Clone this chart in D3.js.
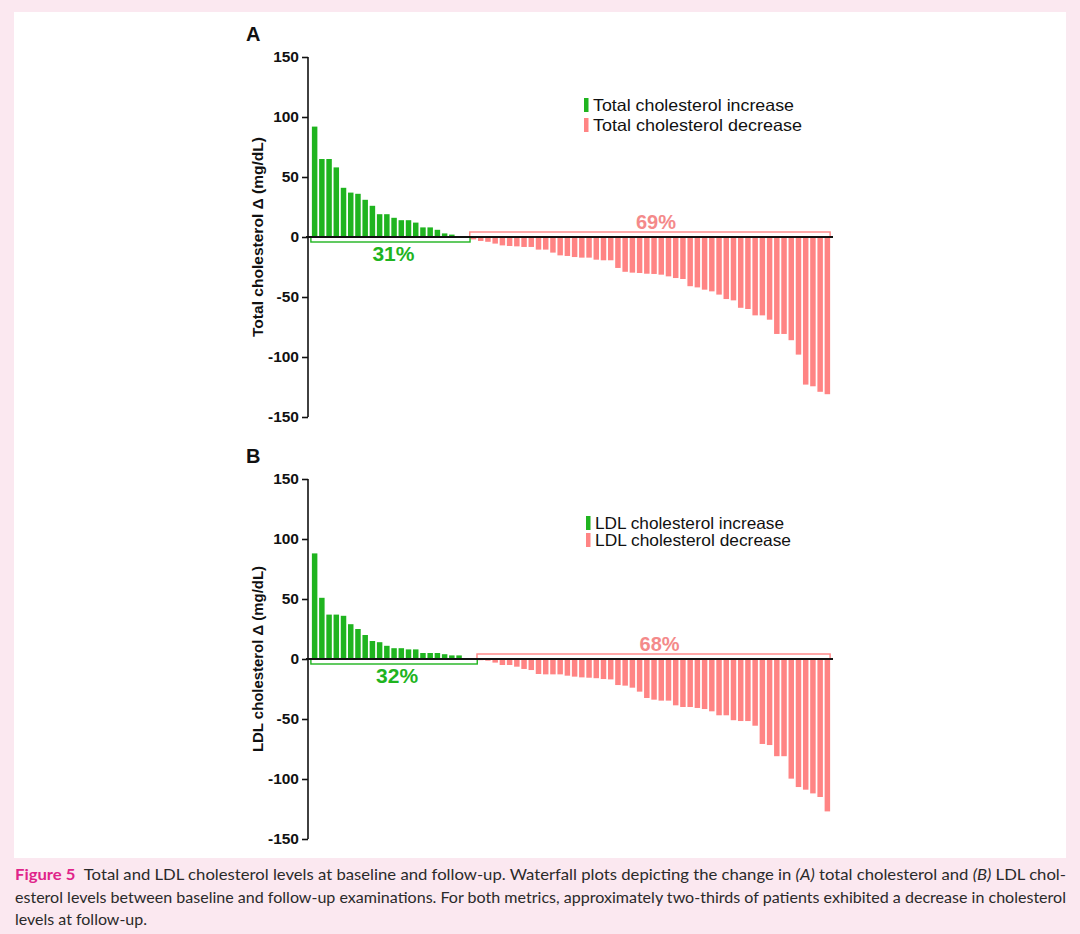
<!DOCTYPE html>
<html><head><meta charset="utf-8">
<script src="https://cdn.jsdelivr.net/npm/d3@7/dist/d3.min.js"></script>
<style>
html,body{margin:0;padding:0;background:#fbe8f0;}
svg{display:block;}
</style></head>
<body>
<svg id="c" width="1080" height="934"></svg>
<script>
// ---- data ----
const totalIncrease = [92, 65, 65, 58, 41, 37, 36, 31, 26, 19, 19, 16, 14, 14, 12, 8, 8, 6, 3, 2, 0, 0];
const totalDecrease = [-2, -3.3, -4, -5.5, -7, -7.5, -7.8, -8.3, -8.3, -10.5, -10.5, -13, -15.3, -15.8, -16.7, -17.2, -17.2, -18.9, -19.4, -19.4, -25.8, -29, -29.7, -30, -30.6, -30.8, -31.4, -32.8, -34.2, -35, -41, -42, -43.9, -45.3, -48, -51.7, -52.8, -59, -60, -65.3, -65.3, -68.9, -80.8, -80.8, -86, -98, -123, -124.4, -129, -131];
const ldlIncrease = [88, 51, 37, 37, 36, 29, 25, 20, 15, 14, 11, 9, 9, 8, 8, 5, 5, 5, 4, 3, 3, 0, 0];
const ldlDecrease = [-1, -1.4, -3, -5, -5, -6.4, -8.3, -9.2, -12.5, -12.8, -12.8, -12.8, -13.9, -14.7, -15.3, -15.6, -16, -16.7, -17, -21.7, -22.2, -23.9, -27.2, -32.5, -33.9, -34.7, -34.7, -38.6, -40, -40, -40.8, -41.7, -43.6, -46.9, -46.9, -51, -51.7, -51.7, -55.6, -70.8, -71.7, -81, -81, -99.7, -106.7, -108.9, -112, -115, -127];
const yMajorTicks = [-150, -100, -50, 0, 50, 100, 150];
const yMinorTicks = d3.range(-150, 151, 10);
const panels = [
  {letter: "A", title: "Total cholesterol \u0394 (mg/dL)", inc: totalIncrease, dec: totalDecrease,
   incLabel: "Total cholesterol increase", decLabel: "Total cholesterol decrease", incPct: "31%", decPct: "69%"},
  {letter: "B", title: "LDL cholesterol \u0394 (mg/dL)", inc: ldlIncrease, dec: ldlDecrease,
   incLabel: "LDL cholesterol increase", decLabel: "LDL cholesterol decrease", incPct: "32%", decPct: "68%"}
];

const GREEN = "#1fb41f", RED = "#ff8484", REDTXT = "#f48a8a";
const FONT = "Liberation Sans, Arial, sans-serif";
const svg = d3.select("#c");
svg.append("rect").attr("x", 14).attr("y", 12).attr("width", 1052).attr("height", 846).attr("fill", "#fff");

const tops = [57, 479];
const legendW = [[201, 209], [189, 196]];
const titleLen = [200, 186];
panels.forEach((p, k) => {
  const top = tops[k], bottom = top + 360;
  const g = svg.append("g");
  const vals = p.inc.concat(p.dec);
  const x = d3.scaleBand().domain(d3.range(vals.length)).range([309, 833]).paddingInner(0.24).paddingOuter(0.4);
  const y = d3.scaleLinear().domain([-150, 150]).range([bottom, top]);
  const bw = x.bandwidth();

  // bars
  g.selectAll("rect.bar").data(vals).join("rect")
    .attr("x", (d, i) => x(i)).attr("width", bw)
    .attr("y", d => y(Math.max(0, d))).attr("height", d => Math.abs(y(d) - y(0)))
    .attr("fill", (d, i) => i < p.inc.length ? GREEN : RED);

  // brackets
  const nInc = p.inc.length;
  const gx0 = x(0) - 1, gx1 = x(nInc - 1) + bw + 1;
  const rx0 = x(nInc) - 1, rx1 = x(vals.length - 1) + bw;
  g.append("rect").attr("x", gx0).attr("y", y(0)).attr("width", gx1 - gx0).attr("height", 5)
    .attr("fill", "none").attr("stroke", GREEN).attr("stroke-width", 1.4);
  g.append("rect").attr("x", rx0).attr("y", y(0) - 5).attr("width", rx1 - rx0).attr("height", 5)
    .attr("fill", "none").attr("stroke", RED).attr("stroke-width", 1.4);

  // zero line
  g.append("line").attr("x1", 306).attr("x2", 833).attr("y1", y(0)).attr("y2", y(0))
    .attr("stroke", "#111").attr("stroke-width", 2);

  // percentages
  g.append("text").attr("x", (gx0 + gx1) / 2 + 3).attr("y", y(0) + 24).attr("text-anchor", "middle")
    .attr("font-family", FONT).attr("font-weight", "bold").attr("font-size", 21)
    .attr("fill", GREEN).text(p.incPct);
  g.append("text").attr("x", (rx0 + rx1) / 2 + 6).attr("y", y(0) - 8).attr("text-anchor", "middle")
    .attr("font-family", FONT).attr("font-weight", "bold").attr("font-size", 20)
    .attr("fill", REDTXT).text(p.decPct);

  // y axis
  const ax = g.append("g").attr("transform", "translate(308,0)");
  ax.call(d3.axisLeft(y).tickValues(yMinorTicks).tickSize(3).tickFormat(""));
  ax.call(d3.axisLeft(y).tickValues(yMajorTicks).tickSize(6).tickPadding(3).tickFormat(d => String(d)));
  ax.selectAll("path.domain").remove();
  ax.append("line").attr("x1", 0).attr("x2", 0).attr("y1", top).attr("y2", bottom).attr("stroke", "#111").attr("stroke-width", 2);
  ax.selectAll("line").attr("stroke", "#111").attr("stroke-width", 1.6);
  ax.selectAll("text").attr("font-family", FONT).attr("font-weight", "bold")
    .attr("font-size", 15.5).attr("fill", "#111");

  // axis title
  g.append("text").attr("transform", `translate(263,${y(0)}) rotate(-90)`).attr("text-anchor", "middle")
    .attr("font-family", FONT).attr("font-weight", "bold").attr("font-size", 15)
    .attr("textLength", titleLen[k]).attr("lengthAdjust", "spacingAndGlyphs")
    .attr("fill", "#111").text(p.title);

  // panel letter
  g.append("text").attr("x", 246).attr("y", top - 16).attr("font-family", FONT)
    .attr("font-weight", "bold").attr("font-size", 20).attr("fill", "#111").text(p.letter);

  // legend
  const lx = k === 0 ? 584 : 586, ly = k === 0 ? 98 : 516, lgap = k === 0 ? 20 : 17;
  [[p.incLabel, GREEN], [p.decLabel, RED]].forEach(([t, c], j) => {
    g.append("rect").attr("x", lx).attr("y", ly + j * lgap).attr("width", 4.5).attr("height", 14).attr("fill", c);
    g.append("text").attr("x", lx + 9).attr("y", ly + j * lgap + 13).attr("font-family", FONT)
      .attr("font-size", 16.5).attr("textLength", legendW[k][j]).attr("lengthAdjust", "spacingAndGlyphs")
      .attr("fill", "#111").text(t);
  });
});

// caption
const cap = svg.append("g").attr("font-family", "Lato, 'Open Sans', sans-serif").attr("font-size", 16).attr("fill", "#2a2a2a");
const l1 = cap.append("text").attr("x", 15).attr("y", 880).attr("textLength", 1051).attr("lengthAdjust", "spacingAndGlyphs");
l1.append("tspan").attr("font-weight", "bold").attr("fill", "#e0248a").text("Figure 5");
l1.append("tspan").text("\u2002Total and LDL cholesterol levels at baseline and follow-up. Waterfall plots depicting the change in ");
l1.append("tspan").attr("font-style", "italic").text("(A)");
l1.append("tspan").text(" total cholesterol and ");
l1.append("tspan").attr("font-style", "italic").text("(B)");
l1.append("tspan").text(" LDL chol-");
cap.append("text").attr("x", 15).attr("y", 903).attr("textLength", 1051).attr("lengthAdjust", "spacingAndGlyphs")
  .text("esterol levels between baseline and follow-up examinations. For both metrics, approximately two-thirds of patients exhibited a decrease in cholesterol");
cap.append("text").attr("x", 15).attr("y", 925).attr("textLength", 132).attr("lengthAdjust", "spacingAndGlyphs")
  .text("levels at follow-up.");
</script>
</body></html>
